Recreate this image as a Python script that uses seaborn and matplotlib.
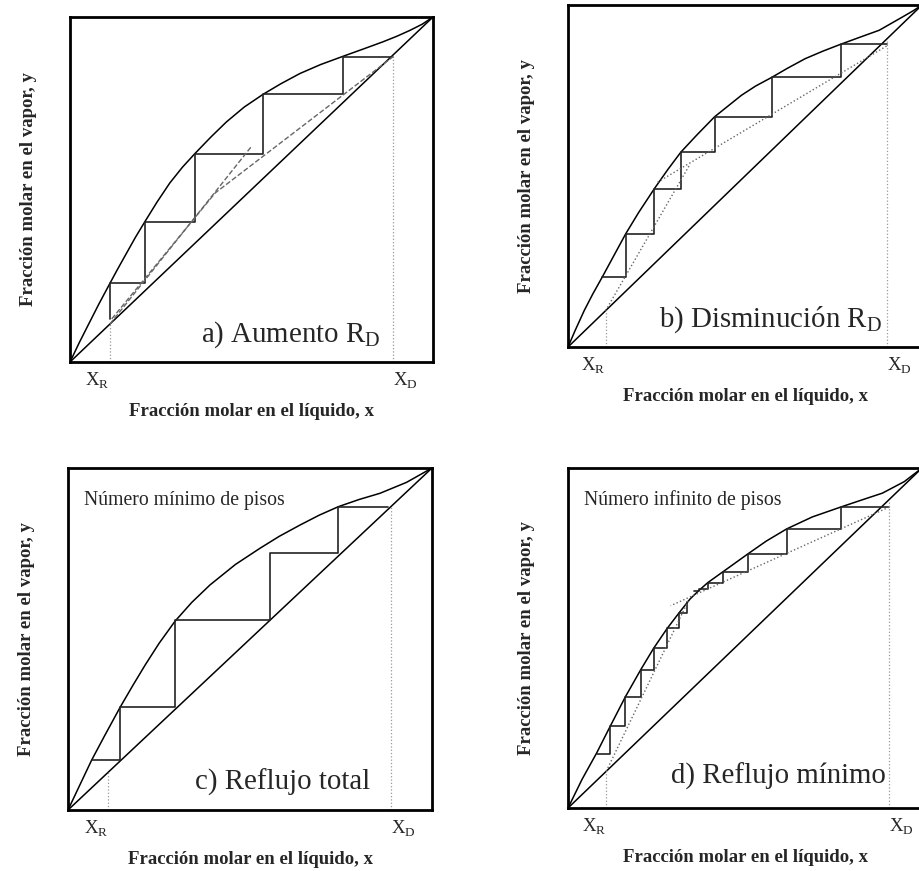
import matplotlib
matplotlib.use("Agg")
import matplotlib.pyplot as plt
import seaborn as sns

# ---- panel a) Aumento R_D ----
eq_a_x = [0, 0.025, 0.05, 0.08, 0.11, 0.13, 0.156, 0.18, 0.207, 0.24, 0.275, 0.31, 0.344, 0.388,
          0.431, 0.48, 0.532, 0.58, 0.633, 0.69, 0.752, 0.81, 0.862, 0.9, 0.936, 0.97, 1.0]
eq_a_y = [0, 0.055, 0.107, 0.169, 0.228, 0.267, 0.316, 0.361, 0.408, 0.464, 0.519, 0.565, 0.604, 0.652,
          0.696, 0.739, 0.776, 0.806, 0.836, 0.862, 0.886, 0.908, 0.928, 0.944, 0.961, 0.979, 1.0]
stair_a_x = [0.89, 0.752, 0.752, 0.532, 0.532, 0.344, 0.344, 0.207, 0.207, 0.110, 0.110]
stair_a_y = [0.885, 0.885, 0.776, 0.776, 0.602, 0.602, 0.407, 0.407, 0.230, 0.230, 0.125]
op_a1_x = [0.110, 0.500]
op_a1_y = [0.110, 0.625]
op_a2_x = [0.115, 0.400, 0.890]
op_a2_y = [0.125, 0.490, 0.885]
xr_a, xd_a = 0.110, 0.890

# ---- panel b) Disminucion R_D ----
eq_b_x = [0, 0.02, 0.046, 0.07, 0.097, 0.13, 0.163, 0.2, 0.244, 0.282, 0.319, 0.365, 0.414, 0.49,
          0.53, 0.575, 0.62, 0.67, 0.72, 0.77, 0.82, 0.879, 0.945, 0.975, 1.0]
eq_b_y = [0, 0.048, 0.107, 0.155, 0.205, 0.268, 0.331, 0.394, 0.463, 0.519, 0.570, 0.621, 0.673, 0.736,
          0.763, 0.788, 0.815, 0.843, 0.865, 0.885, 0.904, 0.926, 0.965, 0.983, 1.0]
stair_b_x = [0.90, 0.770, 0.770, 0.575, 0.575, 0.414, 0.414, 0.319, 0.319, 0.244, 0.244, 0.163, 0.163, 0.097]
stair_b_y = [0.885, 0.885, 0.788, 0.788, 0.673, 0.673, 0.570, 0.570, 0.463, 0.463, 0.331, 0.331, 0.205, 0.205]
op_b1_x = [0.106, 0.345]
op_b1_y = [0.106, 0.535]
op_b2_x = [0.900, 0.250]
op_b2_y = [0.880, 0.480]
xr_b, xd_b = 0.106, 0.900

# ---- panel c) Reflujo total ----
eq_c_x = [0, 0.028, 0.065, 0.10, 0.143, 0.178, 0.212, 0.25, 0.294, 0.34, 0.39, 0.46, 0.527, 0.58,
          0.637, 0.69, 0.743, 0.80, 0.857, 0.93, 1.0]
eq_c_y = [0, 0.063, 0.146, 0.216, 0.300, 0.364, 0.424, 0.487, 0.552, 0.607, 0.658, 0.718, 0.765, 0.800,
          0.833, 0.862, 0.887, 0.908, 0.926, 0.958, 1.0]
stair_c_x = [0.880, 0.743, 0.743, 0.555, 0.555, 0.294, 0.294, 0.143, 0.143, 0.065]
stair_c_y = [0.887, 0.887, 0.752, 0.752, 0.556, 0.556, 0.300, 0.300, 0.146, 0.146]
xr_c, xd_c = 0.110, 0.888

# ---- panel d) Reflujo minimo ----
eq_d_x = [0, 0.04, 0.081, 0.119, 0.162, 0.205, 0.242, 0.28, 0.313, 0.345, 0.37, 0.395, 0.438, 0.509,
          0.56, 0.618, 0.69, 0.77, 0.83, 0.888, 0.95, 1.0]
eq_d_y = [0, 0.085, 0.162, 0.240, 0.327, 0.406, 0.470, 0.528, 0.573, 0.615, 0.640, 0.663, 0.695, 0.748,
          0.785, 0.821, 0.856, 0.885, 0.906, 0.926, 0.960, 1.0]
stair_d1_x = [0.907, 0.770, 0.770, 0.618, 0.618, 0.509, 0.509, 0.438, 0.438, 0.395, 0.395, 0.370, 0.370, 0.355]
stair_d1_y = [0.885, 0.885, 0.821, 0.821, 0.748, 0.748, 0.695, 0.695, 0.663, 0.663, 0.645, 0.645, 0.637, 0.637]
stair_d2_x = [0.081, 0.119, 0.119, 0.162, 0.162, 0.205, 0.205, 0.242, 0.242, 0.280, 0.280, 0.313, 0.313, 0.335, 0.335]
stair_d2_y = [0.160, 0.160, 0.242, 0.242, 0.327, 0.327, 0.406, 0.406, 0.470, 0.470, 0.528, 0.528, 0.573, 0.573, 0.605]
op_d1_x = [0.108, 0.340]
op_d1_y = [0.108, 0.610]
op_d2_x = [0.907, 0.290]
op_d2_y = [0.885, 0.595]
xr_d, xd_d = 0.108, 0.907

titles = ["a) Aumento R$_\\mathrm{D}$", "b) Disminución R$_\\mathrm{D}$",
          "c) Reflujo total", "d) Reflujo mínimo"]
notes = ["", "", "Número mínimo de pisos", "Número infinito de pisos"]
xlabel = "Fracción molar en el líquido, x"
ylabel = "Fracción molar en el vapor, y"

sns.set_style("white")
plt.rcParams["font.family"] = ["Liberation Serif", "DejaVu Serif"]
plt.rcParams["mathtext.fontset"] = "custom"
plt.rcParams["mathtext.rm"] = "Liberation Serif"

fig = plt.figure(figsize=(9.2, 8.71), dpi=100)
rects = [[0.0761, 0.5844, 0.3946, 0.3961],
         [0.6174, 0.6016, 0.3848, 0.3927],
         [0.0739, 0.0700, 0.3957, 0.3927],
         [0.6174, 0.0723, 0.3848, 0.3904]]
axes = [fig.add_axes(r) for r in rects]


def line(ax, xs, ys, color="black", lw=1.1, ls="-"):
    sns.lineplot(x=xs, y=ys, ax=ax, sort=False, estimator=None,
                 color=color, linewidth=lw, linestyle=ls)


def panel(ax, eq_x, eq_y, stairs, ops, op_ls, xr, xd, title, tpos, note):
    line(ax, [0, 1], [0, 1], lw=1.1)
    line(ax, eq_x, eq_y, lw=1.1)
    for sx, sy in stairs:
        line(ax, sx, sy, color="#222222", lw=1.2)
    for ox, oy in ops:
        line(ax, ox, oy, color="#666666", lw=1.0, ls=op_ls)
    line(ax, [xr, xr], [0, xr], color="#999999", lw=0.9, ls=":")
    line(ax, [xd, xd], [0, xd], color="#999999", lw=0.9, ls=":")
    ax.text(tpos[0], tpos[1], title, fontsize=20.8, ha="left", va="baseline")
    if note:
        ax.text(0.045, 0.892, note, fontsize=14.2, ha="left", va="baseline")
    ax.set_xlim(0, 1)
    ax.set_ylim(0, 1)
    ax.set_xticks([xr, xd])
    ax.set_xticklabels(["X$_\\mathrm{R}$", "X$_\\mathrm{D}$"], fontsize=13.5)
    lbls = ax.get_xticklabels()
    lbls[0].set_ha("right")
    lbls[1].set_ha("left")
    ax.tick_params(axis="x", length=0, pad=6)
    ax.set_yticks([])
    ax.set_xlabel(xlabel, fontsize=13.5, fontweight="bold", labelpad=9)
    ax.set_ylabel(ylabel, fontsize=13.5, fontweight="bold", labelpad=24)
    for sp in ax.spines.values():
        sp.set_visible(True)
        sp.set_color("black")
        sp.set_linewidth(2.0)


panel(axes[0], eq_a_x, eq_a_y, [(stair_a_x, stair_a_y)],
      [(op_a1_x, op_a1_y), (op_a2_x, op_a2_y)], "--", xr_a, xd_a,
      titles[0], (0.36, 0.058), notes[0])
panel(axes[1], eq_b_x, eq_b_y, [(stair_b_x, stair_b_y)],
      [(op_b1_x, op_b1_y), (op_b2_x, op_b2_y)], ":", xr_b, xd_b,
      titles[1], (0.258, 0.058), notes[1])
panel(axes[2], eq_c_x, eq_c_y, [(stair_c_x, stair_c_y)],
      [], ":", xr_c, xd_c, titles[2], (0.349, 0.059), notes[2])
panel(axes[3], eq_d_x, eq_d_y, [(stair_d1_x, stair_d1_y), (stair_d2_x, stair_d2_y)],
      [(op_d1_x, op_d1_y), (op_d2_x, op_d2_y)], ":", xr_d, xd_d,
      titles[3], (0.291, 0.072), notes[3])

fig.savefig("out.png", dpi=100)
